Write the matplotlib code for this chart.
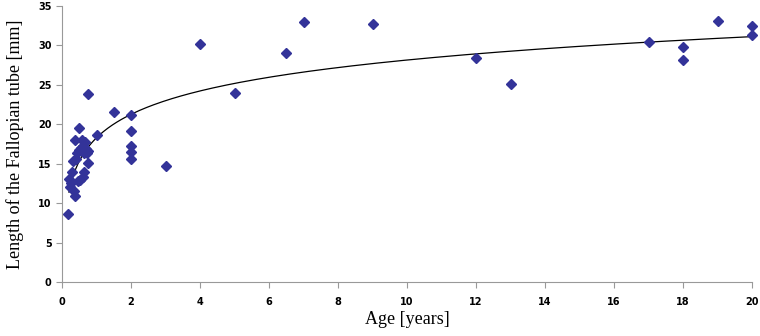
import numpy as np
import matplotlib
matplotlib.use('Agg')
import matplotlib.pyplot as plt

# age [years] and tube length [mm]
age = [0.17, 0.21, 0.23, 0.27, 0.30, 0.33, 0.35, 0.37, 0.39, 0.41, 0.43,
       0.45, 0.49, 0.50, 0.53, 0.55, 0.57, 0.60, 0.62, 0.64, 0.65, 0.67,
       0.70, 0.72, 0.74, 0.74, 0.75, 1.0, 1.5,
       2, 2, 2, 2, 2, 3, 4, 5, 6.5, 7, 9, 12, 13, 17, 18, 18, 19, 20, 20]
length = [8.6, 13.0, 12.1, 12.6, 14.0, 15.3, 11.5, 10.9, 18.0, 15.6, 16.4,
          12.8, 19.5, 16.8, 12.9, 17.0, 18.0, 13.3, 17.2, 16.4, 14.0, 17.8,
          16.9, 16.4, 23.8, 15.1, 16.6, 18.6, 21.5,
          21.2, 19.1, 17.3, 16.5, 15.6, 14.7, 30.2, 24.0, 29.0, 33.0, 32.7,
          28.4, 25.1, 30.4, 29.8, 28.2, 33.1, 32.5, 31.3]

x_ticks = list(range(0, 21, 2))
y_ticks = list(range(0, 36, 5))

# logarithmic trend line, as Excel draws it
a, b = np.polyfit(np.log(age), length, 1)
xs = np.linspace(0.2, 20, 300)
ys = a * np.log(xs) + b

fig = plt.figure(figsize=(7.6, 3.36), dpi=100)
ax = fig.add_axes([62 / 760, 1 - 282 / 336, 690 / 760, 276 / 336])

ax.plot(xs, ys, color='black', lw=0.9)
ax.plot(age, length, 'D', color='#333399', ms=5.5, mec='#333399', clip_on=False)

ax.set_xlim(0, 20)
ax.set_ylim(0, 35)
ax.set_xticks(x_ticks)
ax.set_yticks(y_ticks)
for s in ['top', 'right']:
    ax.spines[s].set_visible(False)
for s in ['left', 'bottom']:
    ax.spines[s].set_color('#999999')
ax.tick_params(colors='#999999', length=4, labelcolor='black', labelsize=7)
for lab in ax.get_xticklabels() + ax.get_yticklabels():
    lab.set_fontweight('bold')
ax.tick_params(axis='x', pad=7)

ax.set_xlabel('Age [years]', family='Liberation Serif', fontsize=13, labelpad=3)
ax.set_ylabel('Length of the Fallopian tube [mm]', family='Liberation Serif',
              fontsize=13, labelpad=10)

fig.savefig('out.png', dpi=100)
